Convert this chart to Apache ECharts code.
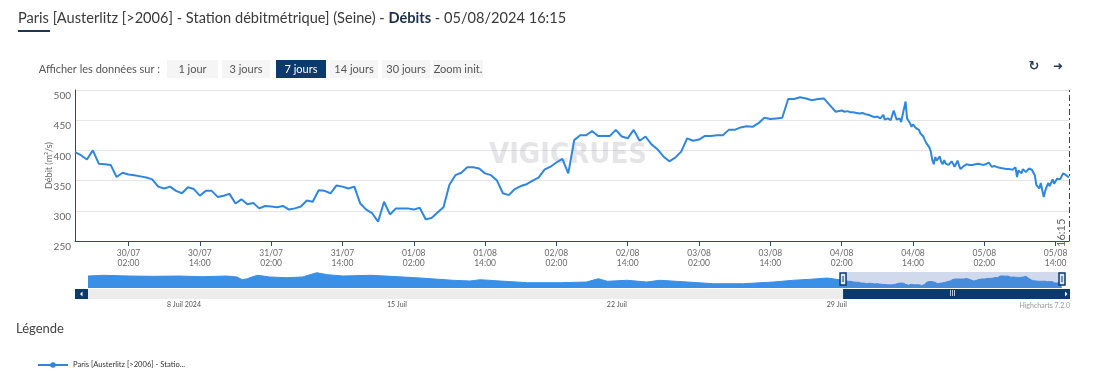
<!DOCTYPE html>
<html><head><meta charset="utf-8">
<script src="https://cdn.jsdelivr.net/npm/echarts@6/dist/echarts.min.js"></script>
<style>html,body{margin:0;padding:0;background:#fff;}#c{width:1100px;height:372px;}</style>
</head><body><div id="c"></div>
<script>
const seriesName = 'Paris [Austerlitz [>2006] - Station débitmétrique] (Seine)';

// Hourly observations from 29/07 17:00 to 04/08 02:00 (m3/s)
const hourlyFrom = '29/07 17:00';
const hourlyFlow = [
  397,392,385,400,378,377,376,356,363,360,
  359,357,355,352,340,337,340,333,329,339,
  336,325,333,333,323,325,328,312,319,311,
  313,304,308,307,306,308,302,304,307,317,
  315,334,333,329,342,340,337,340,312,302,
  296,282,315,294,304,304,304,302,305,286,
  288,297,306,343,359,363,372,372,370,362,
  359,350,329,326,336,341,344,350,355,368,
  373,380,386,362,417,425,425,432,424,424,
  424,434,423,420,434,416,423,410,402,390,
  382,388,398,420,416,418,424,424,425,425,
  434,434,438,440,439,445,454,452,453,454,
  485,485,488,486,483,485,486,475,464,466
];

// Finer observations 04/08 02:30 -> 05/08 16:15
const detailTimes = [
  '04/08 02:30','04/08 03:00','04/08 03:30','04/08 04:00','04/08 04:30','04/08 05:00','04/08 05:30','04/08 06:00',
  '04/08 06:30','04/08 07:00','04/08 07:30','04/08 08:00','04/08 08:30','04/08 09:00','04/08 09:15','04/08 09:45',
  '04/08 10:15','04/08 10:45','04/08 11:15','04/08 11:45','04/08 12:00','04/08 12:15','04/08 12:45','04/08 13:00',
  '04/08 13:15','04/08 13:30','04/08 13:45','04/08 14:00','04/08 14:15','04/08 14:30','04/08 14:45','04/08 15:00',
  '04/08 15:15','04/08 15:30','04/08 15:45','04/08 16:00','04/08 16:15','04/08 16:30','04/08 16:45','04/08 17:00',
  '04/08 17:15','04/08 17:30','04/08 17:45','04/08 18:00','04/08 18:15','04/08 18:30','04/08 18:45','04/08 19:00',
  '04/08 19:15','04/08 19:30','04/08 19:45','04/08 20:00','04/08 20:15','04/08 20:30','04/08 20:45','04/08 21:00',
  '04/08 21:15','04/08 21:30','04/08 21:45','04/08 22:00','04/08 22:15','04/08 22:30','04/08 22:45','04/08 23:00',
  '04/08 23:15','04/08 23:30','04/08 23:45','05/08 00:00','05/08 00:15','05/08 00:30','05/08 00:45','05/08 01:00',
  '05/08 01:15','05/08 01:45','05/08 02:15','05/08 02:45','05/08 03:15','05/08 03:45','05/08 04:15','05/08 04:45',
  '05/08 05:15','05/08 05:45','05/08 06:15','05/08 06:45','05/08 07:00','05/08 07:15','05/08 07:30','05/08 07:45',
  '05/08 08:00','05/08 08:15','05/08 08:30','05/08 08:45','05/08 09:00','05/08 09:15','05/08 09:30','05/08 09:45',
  '05/08 10:00','05/08 10:15','05/08 10:30','05/08 10:45','05/08 11:00','05/08 11:15','05/08 11:30','05/08 11:45',
  '05/08 12:00','05/08 12:15','05/08 12:30','05/08 12:45','05/08 13:00','05/08 13:15','05/08 13:30','05/08 13:45',
  '05/08 14:00','05/08 14:15','05/08 14:30','05/08 14:45','05/08 15:00','05/08 15:15','05/08 15:30','05/08 15:45',
  '05/08 16:00','05/08 16:15'
];
const detailFlow = [
  464,465,463,463,462,461,462,460,
  459,457,455,456,453,459,451,453,
  450,466,451,453,447,450,481,453,
  449,445,439,443,441,437,438,434,
  428,430,423,417,412,414,405,398,
  384,377,389,383,380,390,381,377,
  384,378,381,376,379,382,378,373,
  378,383,375,369,372,374,377,377,
  380,376,378,376,379,377,376,378,
  376,376,377,380,373,374,372,371,
  370,369,369,368,370,372,356,367,
  368,362,369,370,364,365,370,367,
  368,366,359,343,340,337,346,334,
  323,333,340,346,341,343,352,345,
  348,353,355,352,357,362,360,359,
  357,355
];

// Navigator history (30 days), before the 7-day window
const navTimes = [
  '05/07 16:15','06/07 04:00','07/07 00:00','07/07 18:00','08/07 14:00','09/07 08:00','10/07 02:00','10/07 10:00',
  '10/07 14:00','10/07 18:00','10/07 22:00','11/07 02:00','11/07 11:00','12/07 00:00','12/07 12:00','12/07 23:00',
  '13/07 07:00','13/07 19:00','14/07 16:00','15/07 07:00','16/07 06:00','17/07 07:00','17/07 20:00','18/07 04:00',
  '18/07 19:00','19/07 16:00','20/07 17:00','21/07 13:00','21/07 22:00','22/07 05:00','22/07 20:00','23/07 11:00',
  '23/07 21:00','24/07 18:00','25/07 14:00','26/07 13:00','27/07 12:00','28/07 03:00','28/07 16:00','29/07 05:00'
];
const navFlow = [
  487,502,487,481,487,473,487,467,
  410,431,473,502,467,452,467,556,
  515,487,502,481,446,398,383,410,
  383,348,348,362,431,377,398,362,
  398,362,327,327,362,398,419,446
];

// Axis ticks
const xTicks = ['30/07 02:00','30/07 14:00','31/07 02:00','31/07 14:00','01/08 02:00','01/08 14:00','02/08 02:00',
  '02/08 14:00','03/08 02:00','03/08 14:00','04/08 02:00','04/08 14:00','05/08 02:00','05/08 14:00'];
const yTicks = [250, 300, 350, 400, 450, 500];
const navTicks = ['08/07 00:00','15/07 00:00','22/07 00:00','29/07 00:00'];
const navTickLabels = ['8 Juil 2024','15 Juil','22 Juil','29 Juil'];
const viewStartStr = '29/07 17:00';
const viewEndStr = '05/08 16:15';
const navStartStr = '05/07 16:15';
const rangeButtons = ['1 jour','3 jours','7 jours','14 jours','30 jours','Zoom init.'];

function T(s){
  const [d,h] = s.split(' ');
  const [dd,mm] = d.split('/').map(Number);
  const [H,M] = h.split(':').map(Number);
  return new Date(2024, mm-1, dd, H, M).getTime();
}
const pad = n => (n<10?'0':'')+n;
const HOUR = 3600000;
const t0 = T(hourlyFrom);
const mainData = hourlyFlow.map((v,i)=>[t0 + i*HOUR, v]).concat(detailTimes.map((s,i)=>[T(s), detailFlow[i]]));
const navData = navTimes.map((s,i)=>[T(s), navFlow[i]]).concat(mainData);
const xTickVals = xTicks.map(T);
const navTickVals = navTicks.map(T);
const viewStart = T(viewStartStr), viewEnd = T(viewEndStr), navStart = T(navStartStr);

const FONT = 'Lato, "Open Sans", sans-serif';
const NAVY = '#0b3a6b';
const LINE = '#2f86de';

const chart = echarts.init(document.getElementById('c'), null, {renderer:'canvas'});
const option = {
  animation: false,
  backgroundColor: '#fff',
  title: {
    text: '{n|Paris [Austerlitz [>2006] - Station débitmétrique] (Seine) - }{b|Débits}{n| - 05/08/2024 16:15}',
    left: 13, top: 6,
    textStyle: { rich: {
      n: {fontFamily: FONT, fontSize: 14.6, color: '#3a3a3a', fontWeight: 'normal'},
      b: {fontFamily: FONT, fontSize: 14.6, color: '#1d2f4a', fontWeight: 'bold'}
    }}
  },
  legend: {
    data: [seriesName], left: 32, top: 356, itemWidth: 30, itemHeight: 7,
    textStyle: {fontSize: 7.6, color: '#333', fontFamily: FONT},
    formatter: n => n.slice(0, 34) + '...'
  },
  grid: [
    {left: 75, right: 31, top: 90, bottom: 131},
    {left: 88, right: 38, top: 272, height: 16}
  ],
  xAxis: [
    {type: 'value', gridIndex: 0, min: viewStart, max: viewEnd, scale: true,
     axisLine: {lineStyle: {color: '#2c4a6e', width: 1}},
     axisTick: {customValues: xTickVals, length: 5, lineStyle: {color: '#2c4a6e'}},
     axisLabel: {customValues: xTickVals, fontSize: 8.5, color: '#6a6a6a', lineHeight: 10, margin: 7, fontFamily: FONT,
       formatter: v => { const d = new Date(v); return pad(d.getDate())+'/'+pad(d.getMonth()+1)+'\n'+pad(d.getHours())+':'+pad(d.getMinutes()); }},
     splitLine: {show: false}},
    {type: 'value', gridIndex: 1, min: navStart, max: viewEnd, scale: true,
     axisLine: {show: false}, axisTick: {show: false}, splitLine: {show: false},
     axisLabel: {customValues: navTickVals, align: 'left', fontSize: 7, color: '#555', margin: 13, fontFamily: FONT,
       padding: [0,0,0,6],
       formatter: v => { const i = navTickVals.indexOf(v); return i >= 0 ? navTickLabels[i] : ''; }}}
  ],
  yAxis: [
    {type: 'value', gridIndex: 0, min: yTicks[0], max: yTicks[yTicks.length-1], interval: 50,
     axisLine: {show: true, lineStyle: {color: '#2c4a6e'}}, axisTick: {show: false},
     splitLine: {lineStyle: {color: '#e6e6e6'}},
     axisLabel: {fontSize: 10, color: '#666', margin: 4, verticalAlign: 'top', padding: [1,0,0,0], fontFamily: FONT},
     name: 'Débit (m³/s)', nameLocation: 'middle', nameGap: 21, nameMoveOverlap: false,
     nameTextStyle: {fontSize: 9, color: '#666', fontFamily: FONT}},
    {type: 'value', gridIndex: 1, min: 237, max: 571, show: false}
  ],
  series: [
    {name: seriesName, type: 'line', xAxisIndex: 0, yAxisIndex: 0, data: mainData,
     showSymbol: false, symbol: 'circle', symbolSize: 7, z: 3,
     lineStyle: {width: 2, color: LINE}, itemStyle: {color: LINE},
     markLine: {silent: true, symbol: ['none','none'], data: [{xAxis: viewEnd}],
       lineStyle: {color: '#444', type: [6,3,2,3], width: 1},
       label: {formatter: '16:15', position: 'insideStartTop', fontSize: 11, color: '#666', fontFamily: FONT, distance: [-6, 2]}}},
    {name: 'nav', type: 'line', xAxisIndex: 1, yAxisIndex: 1, data: navData, showSymbol: false, silent: true,
     lineStyle: {width: 1, color: '#3a8fe6'}, areaStyle: {color: '#3a8fe6', opacity: 1}}
  ]
};
chart.setOption(option);

const px = t => chart.convertToPixel({xAxisIndex: 1}, t);
const xs = px(viewStart), xe = px(viewEnd), xn = px(navStart);
const g = [];
g.push({type:'rect', shape:{x:18, y:30, width:32, height:2}, style:{fill:'#1d3557'}});
g.push({type:'text', x:160, y:69, style:{text:'Afficher les données sur :', fontSize:11, fontFamily:FONT, fill:'#555', align:'right', verticalAlign:'middle'}});
const bx = [167, 222, 276, 330, 382, 433];
const bw = [53, 50, 52, 50, 50, 52];
rangeButtons.forEach((b,i)=>{
  const sel = b === '7 jours';
  g.push({type:'rect', shape:{x:bx[i], y:60, width:bw[i]-2, height:18}, style:{fill: sel ? NAVY : '#f5f5f5'}});
  g.push({type:'text', x:bx[i]+(bw[i]-2)/2, y:69, style:{text:b, fontSize:11, fontFamily:FONT, fill: sel ? '#fff' : '#555', align:'center', verticalAlign:'middle'}});
});
g.push({type:'text', x:1034, y:67, style:{text:'↻', fontSize:13, fontWeight:'bold', fontFamily:'DejaVu Sans', fill:'#23395d', align:'center', verticalAlign:'middle'}});
g.push({type:'text', x:1058, y:67, style:{text:'➜', fontSize:12, fontWeight:'bold', fontFamily:'DejaVu Sans', fill:'#23395d', align:'center', verticalAlign:'middle'}});
g.push({type:'text', x:568, y:155, z:1, style:{text:'VIGICRUES', fontSize:29, fontWeight:'bold', fontFamily:'"Liberation Sans Narrow", "DejaVu Sans Condensed", sans-serif', fill:'rgba(170,170,175,0.3)', align:'center', verticalAlign:'middle'}});
g.push({type:'rect', z:5, shape:{x:xs, y:272, width:xe-xs, height:16}, style:{fill:'rgba(102,133,194,0.3)'}});
[xs, xe].forEach(x=>{
  g.push({type:'rect', z:6, shape:{x:x-3, y:273, width:6, height:12}, style:{fill:'#dfe6f0', stroke:NAVY, lineWidth:1.5}});
  g.push({type:'line', z:7, shape:{x1:x, y1:276, x2:x, y2:282}, style:{stroke:NAVY, lineWidth:1}});
});
g.push({type:'rect', shape:{x:xn, y:289, width:xe-xn, height:10}, style:{fill:'#ececec'}});
g.push({type:'rect', shape:{x:xs, y:289, width:xe-xs, height:10}, style:{fill:NAVY}});
g.push({type:'text', x:(xs+xe)/2, y:294, style:{text:'III', fontSize:7, fill:'#fff', align:'center', verticalAlign:'middle', fontFamily:FONT}});
g.push({type:'rect', shape:{x:xn-13, y:289, width:13, height:10}, style:{fill:NAVY}});
g.push({type:'polygon', shape:{points:[[xn-8,294],[xn-5.5,291.5],[xn-5.5,296.5]]}, style:{fill:'#fff'}});
g.push({type:'rect', shape:{x:xe, y:289, width:8, height:10}, style:{fill:NAVY}});
g.push({type:'polygon', shape:{points:[[xe+5.5,294],[xe+3,291.5],[xe+3,296.5]]}, style:{fill:'#fff'}});
g.push({type:'text', x:1070, y:306, style:{text:'Highcharts 7.2.0', fontSize:7, fontFamily:FONT, fill:'#999', align:'right', verticalAlign:'middle'}});
g.push({type:'text', x:16, y:329, style:{text:'Légende', fontSize:13, fontFamily:FONT, fill:'#444', align:'left', verticalAlign:'middle'}});
chart.setOption({graphic: g});
</script></body></html>
